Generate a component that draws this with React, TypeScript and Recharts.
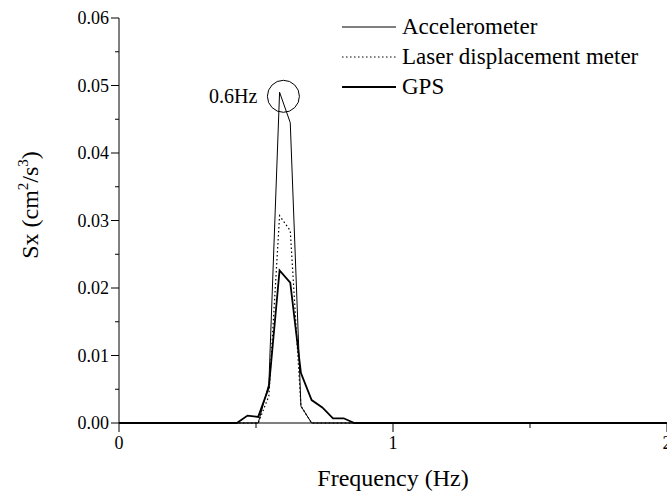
import { LineChart, Line, XAxis, YAxis, ReferenceDot } from "recharts";

const frequency = [0, 0.43, 0.469, 0.508, 0.547, 0.586, 0.625, 0.664, 0.703, 0.742, 0.781, 0.82, 0.859, 2];
const accelerometer = [0, 0, 0, 0, 0.0058, 0.049, 0.0445, 0.0025, 0, 0, 0, 0, 0, 0];
const laser = [0, 0, 0, 0, 0.004, 0.0307, 0.0285, 0.0025, 0, 0, 0, 0, 0, 0];
const gps = [0, 0, 0.0011, 0.0009, 0.0053, 0.0226, 0.0208, 0.0074, 0.0034, 0.0023, 0.0007, 0.0007, 0, 0];

const xTicks = [0, 0.5, 1, 1.5, 2];
const yTicks = [0, 0.005, 0.01, 0.015, 0.02, 0.025, 0.03, 0.035, 0.04, 0.045, 0.05, 0.055, 0.06];

const series = [
  { key: "acc", name: "Accelerometer", width: 1, dash: undefined },
  { key: "laser", name: "Laser displacement meter", width: 1.2, dash: "1.5 2.5" },
  { key: "gps", name: "GPS", width: 1.8, dash: undefined },
];

const data = frequency.map((f, i) => ({
  f,
  acc: accelerometer[i],
  laser: laser[i],
  gps: gps[i],
}));

const FONT = "'Liberation Serif', 'Times New Roman', serif";

const XTick = ({ x, y, payload }: any) => {
  const v = payload.value;
  const major = Number.isInteger(v);
  return (
    <g>
      <line x1={x} y1={y} x2={x} y2={y + (major ? 9 : 5)} stroke="#000" strokeWidth={1} />
      {major && (
        <text x={x} y={y + 26} textAnchor="middle" fontSize={18} fontFamily={FONT} fill="#000">
          {v}
        </text>
      )}
    </g>
  );
};

const YTick = ({ x, y, payload }: any) => {
  const v = payload.value;
  const major = Math.round(v * 1000) % 10 === 0;
  return (
    <g>
      <line x1={x - (major ? 8 : 4)} y1={y} x2={x} y2={y} stroke="#000" strokeWidth={1} />
      {major && (
        <text x={x - 10} y={y + 6} textAnchor="end" fontSize={18} fontFamily={FONT} fill="#000">
          {v.toFixed(2)}
        </text>
      )}
    </g>
  );
};

const YLabel = () => (
  <text
    transform="translate(38,205) rotate(-90)"
    textAnchor="middle"
    fontSize={24}
    fontFamily={FONT}
    fill="#000"
  >
    Sx (cm
    <tspan dy={-10} fontSize={15}>2</tspan>
    <tspan dy={10}>/s</tspan>
    <tspan dy={-10} fontSize={15}>3</tspan>
    <tspan dy={10}>)</tspan>
  </text>
);

const App = () => {
  return (
    <div style={{ position: "absolute", left: 0, top: 0, width: 667, height: 494, background: "#fff" }}>
      <LineChart width={667} height={494} data={data} margin={{ top: 18, right: 0, left: 0, bottom: 0 }}>
        <XAxis
          dataKey="f"
          type="number"
          domain={[0, 2]}
          ticks={xTicks}
          tickSize={0}
          tickMargin={0}
          tickLine={false}
          tick={<XTick />}
          height={71}
          stroke="#000"
          interval={0}
          label={{
            value: "Frequency (Hz)",
            position: "insideBottom",
            offset: 8,
            fontSize: 24,
            fontFamily: FONT,
            fill: "#000",
          }}
        />
        <YAxis
          type="number"
          domain={[0, 0.06]}
          ticks={yTicks}
          tickSize={0}
          tickMargin={0}
          tickLine={false}
          tick={<YTick />}
          width={119}
          stroke="#000"
          interval={0}
          label={<YLabel />}
        />
        {series.map((s) => (
          <Line
            key={s.key}
            type="linear"
            dataKey={s.key}
            name={s.name}
            stroke="#000"
            strokeWidth={s.width}
            strokeDasharray={s.dash}
            dot={false}
            activeDot={false}
            isAnimationActive={false}
          />
        ))}
        <ReferenceDot
          x={0.6}
          y={0.0484}
          r={16}
          fill="none"
          stroke="#000"
          strokeWidth={1}
          label={{
            value: "0.6Hz",
            position: "left",
            offset: 10,
            fontSize: 20,
            fontFamily: FONT,
            fill: "#000",
          }}
        />
      </LineChart>
      <div style={{ position: "absolute", left: 342, top: 12, fontFamily: FONT, fontSize: 23 }}>
        {series.map((s) => (
          <div key={s.key} style={{ display: "flex", alignItems: "center", whiteSpace: "nowrap", height: 30 }}>
            <svg width={54} height={10} style={{ marginRight: 6 }}>
              <line
                x1={0}
                y1={5}
                x2={54}
                y2={5}
                stroke="#000"
                strokeWidth={s.width}
                strokeDasharray={s.dash}
              />
            </svg>
            <span>{s.name}</span>
          </div>
        ))}
      </div>
    </div>
  );
};

export default App;
